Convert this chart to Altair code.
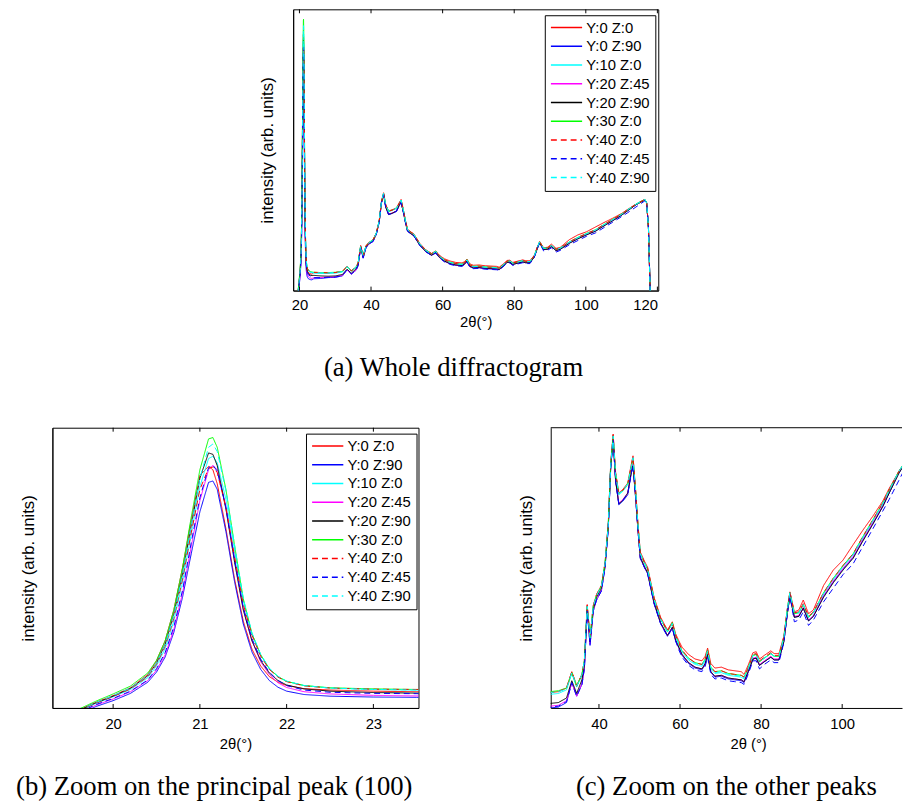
import altair as alt
import pandas as pd

SANS = "Liberation Sans"
SERIF = "Liberation Serif"

SERIES = ["Y:0 Z:0", "Y:0 Z:90", "Y:10 Z:0", "Y:20 Z:45", "Y:20 Z:90",
          "Y:30 Z:0", "Y:40 Z:0", "Y:40 Z:45", "Y:40 Z:90"]
COLORS = ["#ff0000", "#0000ff", "#00ffff", "#ff00ff", "#000000",
          "#00ff00", "#ff0000", "#0000ff", "#00ffff"]
DASHES = [[1, 0]] * 6 + [[6, 4]] * 3

# principal peak (100)
PEAK_X = [19.6, 19.8, 20.0, 20.2, 20.4, 20.5, 20.6, 20.7, 20.8, 20.9, 21.0, 21.1, 21.15,
          21.2, 21.3, 21.4, 21.5, 21.6, 21.7, 21.8, 21.9, 22.0, 22.2, 22.5, 23.0, 23.5]
PEAK_Y = {
    "Y:0 Z:0":   [-0.008, 0.020, 0.044, 0.072, 0.120, 0.168, 0.240, 0.350, 0.500, 0.670, 0.830, 0.862, 0.850,
                  0.800, 0.640, 0.460, 0.310, 0.210, 0.150, 0.112, 0.092, 0.080, 0.069, 0.064, 0.060, 0.058],
    "Y:0 Z:90":  [-0.025, 0.005, 0.026, 0.052, 0.092, 0.128, 0.182, 0.270, 0.395, 0.550, 0.700, 0.805, 0.810,
                  0.780, 0.630, 0.450, 0.300, 0.200, 0.138, 0.098, 0.074, 0.060, 0.048, 0.042, 0.039, 0.038],
    "Y:10 Z:0":  [-0.012, 0.016, 0.040, 0.066, 0.108, 0.150, 0.212, 0.310, 0.450, 0.620, 0.790, 0.890, 0.898,
                  0.875, 0.745, 0.560, 0.385, 0.265, 0.190, 0.140, 0.112, 0.095, 0.080, 0.071, 0.066, 0.064],
    "Y:20 Z:45": [-0.020, 0.010, 0.032, 0.058, 0.098, 0.135, 0.190, 0.280, 0.410, 0.575, 0.740, 0.850, 0.866,
                  0.850, 0.720, 0.530, 0.355, 0.240, 0.165, 0.120, 0.090, 0.073, 0.058, 0.050, 0.045, 0.043],
    "Y:20 Z:90": [-0.010, 0.018, 0.042, 0.070, 0.115, 0.160, 0.228, 0.335, 0.480, 0.650, 0.820, 0.910, 0.905,
                  0.865, 0.710, 0.520, 0.350, 0.240, 0.170, 0.125, 0.098, 0.082, 0.068, 0.060, 0.055, 0.053],
    "Y:30 Z:0":  [-0.005, 0.024, 0.050, 0.078, 0.125, 0.170, 0.240, 0.350, 0.500, 0.680, 0.850, 0.960, 0.965,
                  0.930, 0.780, 0.580, 0.390, 0.265, 0.190, 0.140, 0.112, 0.095, 0.080, 0.072, 0.068, 0.066],
    "Y:40 Z:0":  [-0.012, 0.017, 0.041, 0.068, 0.112, 0.155, 0.220, 0.320, 0.460, 0.625, 0.780, 0.855, 0.860,
                  0.840, 0.715, 0.540, 0.370, 0.260, 0.185, 0.138, 0.110, 0.094, 0.079, 0.071, 0.067, 0.066],
    "Y:40 Z:45": [-0.018, 0.012, 0.034, 0.060, 0.100, 0.140, 0.198, 0.290, 0.420, 0.590, 0.750, 0.858, 0.866,
                  0.845, 0.715, 0.530, 0.360, 0.248, 0.175, 0.128, 0.098, 0.080, 0.064, 0.056, 0.052, 0.051],
    "Y:40 Z:90": [-0.010, 0.019, 0.044, 0.071, 0.116, 0.160, 0.226, 0.330, 0.475, 0.650, 0.820, 0.930, 0.942,
                  0.915, 0.775, 0.580, 0.392, 0.268, 0.192, 0.142, 0.113, 0.096, 0.080, 0.071, 0.066, 0.064],
}

# the other peaks: a reference profile plus each series' offset (thousandths)
REST_X = [24.0, 26.0, 28.0, 30.0, 32.0, 33.3, 34.5, 35.8, 36.4, 37.1,
          37.8, 38.6, 39.4, 40.6, 41.5, 42.3, 42.9, 43.5, 44.1, 44.9,
          45.9, 47.1, 47.9, 48.4, 49.1, 49.6, 50.2, 51.2, 52.0, 53.6,
          55.2, 56.9, 58.1, 58.9, 59.7, 60.5, 62.1, 63.7, 65.4, 66.2,
          66.8, 67.6, 68.6, 70.2, 71.9, 73.5, 75.1, 75.8, 76.8, 78.0,
          78.8, 79.6, 80.8, 82.4, 83.2, 84.4, 85.6, 86.5, 87.1, 88.2,
          89.3, 90.4, 91.7, 92.9, 95.4, 97.8, 100.2, 102.7, 105.1, 107.5,
          110.0, 111.6, 114.0, 116.5, 117.0, 117.5, 118.0]
REST_BASE = [0.062, 0.061, 0.061, 0.062, 0.066, 0.084, 0.069, 0.082, 0.097, 0.158,
             0.123, 0.158, 0.170, 0.180, 0.205, 0.248, 0.314, 0.345, 0.303, 0.281,
             0.285, 0.292, 0.310, 0.321, 0.281, 0.248, 0.216, 0.206, 0.199, 0.166,
             0.144, 0.130, 0.139, 0.125, 0.116, 0.108, 0.099, 0.094, 0.092, 0.098,
             0.108, 0.089, 0.084, 0.085, 0.082, 0.081, 0.080, 0.078, 0.089, 0.104,
             0.105, 0.097, 0.101, 0.106, 0.103, 0.103, 0.123, 0.155, 0.173, 0.150,
             0.151, 0.160, 0.146, 0.151, 0.172, 0.188, 0.202, 0.215, 0.234, 0.252,
             0.271, 0.286, 0.307, 0.324, 0.312, 0.225, -0.010]
REST_DELTA = {
    "Y:0 Z:0":   [2, 2, 2, 2, 2, 2, 2, 1, 1, 2, 1, 1, 1, 1, 1, 2, 2, 3, 3, 2,
                  2, 2, 3, 3, 2, 2, 2, 2, 2, 2, 2, 2, 2, 3, 4, 5, 6, 6, 6, 5,
                  4, 6, 6, 6, 6, 6, 6, 5, 4, 3, 3, 3, 3, 3, 3, 3, 2, 1, 1, 2,
                  3, 5, 4, 3, 9, 10, 7, 11, 8, 5, 3, 2, 0, 0, 0, 0, 0],
    "Y:0 Z:90":  [-20, -18, -15, -15, -14, -10, -10, -10, -8, -5, -8, -5, -5, -5, -4, -4, -3, -3, -6, -11,
                  -11, -11, -7, -8, -6, -5, -5, -5, -5, -5, -5, -5, -5, -5, -4, -4, -4, -4, -4, -4,
                  -4, -4, -4, -4, -4, -4, -4, -4, -4, -4, -4, -4, -4, -4, -4, -4, -4, -4, -4, -4,
                  -4, -4, -4, -4, -3, -3, -3, -3, -3, -3, -3, -3, -2, -1, 0, 0, 0],
    "Y:10 Z:0":  [0] * 77,
    "Y:20 Z:45": [-16, -15, -13, -13, -12, -10, -10, -9, -7, -4, -6, -4, -4, -4, -3, -3, -3, -2, -5, -9,
                  -9, -9, -6, -6, -5, -4, -4, -4, -4, -4, -4, -4, -4, -4, -3, -3, -3, -3, -3, -3,
                  -3, -3, -3, -3, -3, -3, -3, -3, -3, -3, -3, -3, -3, -3, -3, -3, -3, -3, -3, -3,
                  -3, -3, -3, -3, -2, -2, -2, -2, -2, -2, -2, -2, -1, -1, 0, 0, 0],
    "Y:20 Z:90": [-8, -9, -10, -10, -9, -8, -7, -5, -4, -3, -4, -3, -2, -2, -2, -2, -2, -3, -6, -10,
                  -10, -9, -6, -8, -6, -5, -4, -4, -4, -4, -4, -4, -4, -4, -3, -3, -3, -3, -3, -3,
                  -3, -3, -3, -3, -3, -3, -3, -3, -3, -4, -4, -4, -4, -4, -4, -4, -4, -4, -4, -4,
                  -4, -4, -4, -4, -4, -4, -4, -4, -4, -4, -3, -3, -2, -2, 0, 0, 0],
    "Y:30 Z:0":  [3, 3, 3, 3, 2, 1, 1, 1, 1, 0, 0, 0, 0, 0, 0, 0, 0, 1, 1, 1,
                  1, 1, 0, 0, 0, 0, 0, 0, 0, 0, 0, 0, 1, 1, 1, 1, 2, 2, 2, 2,
                  2, 2, 2, 2, 2, 2, 2, 2, 1, 0, 0, 0, 0, 0, 0, 0, 0, 0, 0, 0,
                  0, 0, 0, 0, 1, 1, 1, 1, 1, 1, 1, 0, 0, 0, 0, 0, 0],
    "Y:40 Z:0":  [3, 3, 2, 2, 2, 2, 1, 1, 1, 1, 1, 1, 1, 1, 1, 1, 1, 2, 2, 1,
                  1, 1, 1, 2, 1, 1, 1, 1, 1, 1, 1, 1, 1, 1, 2, 2, 2, 2, 2, 2,
                  2, 2, 2, 2, 2, 2, 2, 2, 1, 1, 1, 1, 1, 1, 1, 1, 1, 1, 1, 1,
                  1, 1, 1, 1, 1, 1, 1, 1, 1, 1, 1, 1, 0, 0, 0, 0, 0],
    "Y:40 Z:45": [-16, -15, -14, -14, -13, -10, -10, -10, -8, -5, -7, -5, -5, -5, -4, -4, -3, -3, -6, -10,
                  -10, -10, -7, -7, -6, -5, -5, -5, -5, -5, -5, -5, -5, -5, -6, -6, -6, -6, -6, -6,
                  -6, -6, -6, -6, -6, -6, -6, -6, -6, -6, -7, -8, -7, -7, -7, -7, -5, -3, -3, -9,
                  -8, -8, -9, -8, -9, -10, -9, -10, -10, -9, -8, -10, -10, -5, 0, 0, 0],
    "Y:40 Z:90": [2, 2, 2, 2, 1, 1, 1, 1, 1, 0, 0, 0, 0, 0, 0, 0, 0, 1, 1, 1,
                  1, 1, 1, 1, 1, 0, 0, 0, 0, 0, 0, 0, 0, 0, 0, 0, 1, 1, 1, 1,
                  1, 1, 1, 1, 1, 1, 1, 1, 0, 0, 0, 0, 0, 0, 0, 0, 0, 0, 0, 0,
                  0, 0, 0, 0, 0, 0, 0, 0, 0, 0, 0, 0, 0, 0, 0, 0, 0],
}

TICKS_A = [20, 40, 60, 80, 100, 120]
TICKS_B = [20, 21, 22, 23]
TICKS_C = [40, 60, 80, 100]

rows = []
for name in SERIES:
    for x, y in zip(PEAK_X, PEAK_Y[name]):
        rows.append({"x": x, "y": y, "series": name})
    for x, b, d in zip(REST_X, REST_BASE, REST_DELTA[name]):
        rows.append({"x": x, "y": round(b + d / 1000.0, 4), "series": name})
df = pd.DataFrame(rows)


def panel(xdom, ydom, width, height, ticks, xtitle, ytpad, legend_xy, frame, caption,
          cap_dx=0, cap_frame="bounds", xtitle_x=None, cap_offset=20, lpad=6, tpad=2):
    axis_kw = dict(values=ticks, title=xtitle, tickSize=0, labelPadding=lpad, titlePadding=tpad,
                   labelFontSize=15, titleFontSize=15, labelAngle=0, grid=False,
                   labelFont=SANS, titleFont=SANS, titleFontWeight="normal",
                   labelColor="black", titleColor="black", domainColor="black")
    if xtitle_x is not None:
        axis_kw["titleX"] = xtitle_x
    x = alt.X("x:Q", scale=alt.Scale(domain=xdom, nice=False, zero=False),
              axis=alt.Axis(**axis_kw))
    y = alt.Y("y:Q", scale=alt.Scale(domain=ydom, nice=False, zero=False),
              axis=alt.Axis(labels=False, ticks=False, grid=False, title="intensity (arb. units)",
                            titlePadding=ytpad, titleFontSize=17, titleFont=SANS,
                            titleFontWeight="normal", titleColor="black", domainColor="black"))
    if legend_xy is not None:
        leg = alt.Legend(orient="none", legendX=legend_xy[0], legendY=legend_xy[1],
                         fillColor="white", strokeColor="black", padding=5,
                         symbolType="stroke", symbolSize=1000, symbolStrokeWidth=1.5,
                         labelFont=SANS, labelFontSize=15, labelColor="black",
                         labelOffset=3, clipHeight=15, rowPadding=3, title=None)
        color = alt.Color("series:N", scale=alt.Scale(domain=SERIES, range=COLORS), legend=leg, title=None)
        dash = alt.StrokeDash("series:N", scale=alt.Scale(domain=SERIES, range=DASHES), legend=leg, title=None)
    else:
        color = alt.Color("series:N", scale=alt.Scale(domain=SERIES, range=COLORS), legend=None)
        dash = alt.StrokeDash("series:N", scale=alt.Scale(domain=SERIES, range=DASHES), legend=None)

    lines = alt.Chart(df).mark_line(strokeWidth=1, clip=True).encode(
        x=x, y=y, color=color, strokeDash=dash)

    tdf = pd.DataFrame({"x": ticks})
    tb = alt.Chart(tdf).mark_rule(color="black", strokeWidth=1).encode(
        x=x, y=alt.value(height), y2=alt.value(height - 4))
    tt = alt.Chart(tdf).mark_rule(color="black", strokeWidth=1).encode(
        x=x, y=alt.value(0), y2=alt.value(4))
    layers = [lines, tb, tt]
    props = dict(width=width, height=height)
    if not frame:
        top = alt.Chart(pd.DataFrame({"x": [ticks[0]]})).mark_rule(color="black", strokeWidth=1).encode(
            x=alt.value(0), x2=alt.value(width), y=alt.value(0))
        layers.append(top)
        props["view"] = alt.ViewBackground(stroke="transparent")
    ch = alt.layer(*layers).properties(
        title=alt.TitleParams(caption, orient="bottom", anchor="middle", frame=cap_frame,
                              font=SERIF, fontSize=27, fontWeight="normal", color="black",
                              offset=cap_offset, dx=cap_dx),
        **props)
    return ch


pa = panel([18.25, 120.25], [0, 1], 370, 285, TICKS_A, "2θ(°)", 17, (255, 6), True,
           "(a) Whole diffractogram", cap_offset=27, cap_dx=-5, lpad=7, tpad=2)
pb = panel([19.3, 23.52], [0, 1], 371, 284, TICKS_B, "2θ(°)", 15, (257, 6), True,
           "(b) Zoom on the principal peak (100)", cap_dx=-5, cap_offset=23, lpad=9, tpad=5)
pc = panel([28.1, 114.76], [0.046, 0.355], 356, 284, TICKS_C, "2θ (°)", 15, None, False,
           "(c) Zoom on the other peaks", cap_frame="group", xtitle_x=200, cap_offset=23,
           lpad=9, tpad=5)

spacer = alt.Chart(pd.DataFrame({"x": [0]})).mark_rule(strokeOpacity=0).encode(
    x=alt.value(0), x2=alt.value(207), y=alt.value(0)).properties(
    width=207, height=1, view=alt.ViewBackground(stroke="transparent"))

row1 = alt.hconcat(spacer, pa, spacing=0).resolve_scale(color="independent", strokeDash="independent")
row2 = alt.hconcat(pb, pc, spacing=99).resolve_scale(color="independent", strokeDash="independent")

chart = alt.vconcat(row1, row2, spacing=45).resolve_scale(
    color="independent", strokeDash="independent"
).properties(
    padding={"left": 7, "top": -5, "right": 0, "bottom": 0},
    background="white"
).configure_view(
    stroke="black", strokeWidth=1
).configure_axis(
    domainColor="black", domainWidth=1, labelColor="black", titleColor="black",
    labelFont=SANS, titleFont=SANS, titleFontWeight="normal", grid=False
)

chart.save("out.html", embed_options={"renderer": "svg", "actions": False})
